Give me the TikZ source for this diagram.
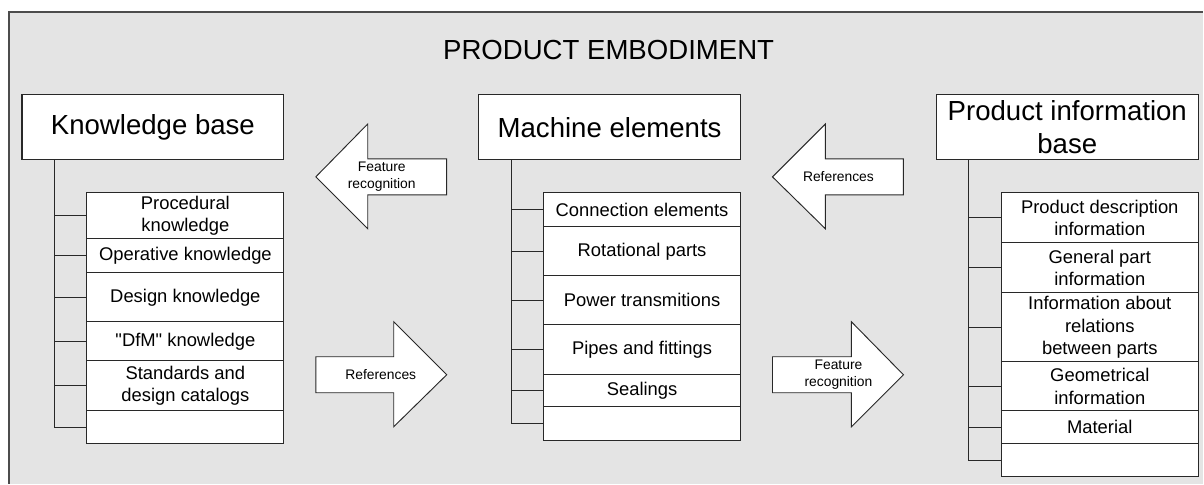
\documentclass[tikz,border=0pt]{standalone}
\usepackage{fontspec}
\setmainfont{Liberation Sans}
\usetikzlibrary{positioning}
\definecolor{panelgray}{RGB}{228,228,228}
\definecolor{linegray}{RGB}{40,40,40}

\tikzset{
  headbox/.style={draw=linegray, fill=white, outer sep=0pt, line width=0.8pt,
    minimum width=196.5pt, minimum height=48.75pt, inner sep=1pt, align=center,
    font=\fontsize{20.7}{24.8}\selectfont},
  itembox/.style={draw=linegray, fill=white, outer sep=0pt, line width=0.8pt,
    minimum width=147.75pt, inner sep=1pt, align=center,
    font=\fontsize{13.8}{17}\selectfont},
  tree/.style={draw=linegray, line width=0.8pt},
  bigarrow/.style={draw=linegray, fill=white, line width=0.7pt, line join=miter},
  arrowtext/.style={align=center, inner sep=0pt, font=\fontsize{10.4}{13}\selectfont},
}

\begin{document}
\begin{tikzpicture}[x=0.75pt, y=-0.75pt]
    % panel
    \fill[white] (0,0) rectangle (1204,484);
    \fill[panelgray] (9,12) rectangle (1204,484);
    \draw[black!70, line width=1.2pt] (9,484) -- (9,12) -- (1204,12);
    \node[font=\fontsize{20.7}{24.8}\selectfont] (title) at (609,50) {PRODUCT EMBODIMENT};

    % knowledge base
    \node[headbox] (kb) at (153,127.5) {Knowledge base};
    \node[itembox, minimum height=34.5pt, below left=24.75pt and 0pt of kb.south east] (kb1) {Procedural\\knowledge};
    \node[itembox, minimum height=25.5pt, below=0pt of kb1] (kb2) {Operative knowledge};
    \node[itembox, minimum height=36.75pt, below=0pt of kb2] (kb3) {Design knowledge};
    \node[itembox, minimum height=29.25pt, below=0pt of kb3] (kb4) {\textquotedbl DfM\textquotedbl{} knowledge};
    \node[itembox, minimum height=37.5pt, below=0pt of kb4] (kb5) {Standards and\\design catalogs};
    \node[itembox, minimum height=24.75pt, below=0pt of kb5] (kb6) {};
    \coordinate (kbt) at ([xshift=24.4pt]kb.south west);
    \draw[tree] (kbt) |- (kb6.west);
    \foreach \i in {1,...,5}
        \draw[tree] (kbt |- kb\i.west) -- (kb\i.west);

    % machine elements
    \node[headbox] (me) at (610,127.5) {Machine elements};
    \node[itembox, minimum height=25.5pt, below left=24.75pt and 0pt of me.south east] (me1) {Connection elements};
    \node[itembox, minimum height=36.75pt, below=0pt of me1] (me2) {Rotational parts};
    \node[itembox, minimum height=36.75pt, below=0pt of me2] (me3) {Power transmitions};
    \node[itembox, minimum height=37.5pt, below=0pt of me3] (me4) {Pipes and fittings};
    \node[itembox, minimum height=24pt, below=0pt of me4] (me5) {Sealings};
    \node[itembox, minimum height=25.5pt, below=0pt of me5] (me6) {};
    \coordinate (met) at ([xshift=24.4pt]me.south west);
    \draw[tree] (met) |- (me6.west);
    \foreach \i in {1,...,5}
        \draw[tree] (met |- me\i.west) -- (me\i.west);

    % product information base
    \node[headbox] (pib) at (1068,127.5) {Product information\\base};
    \node[itembox, minimum height=37.5pt, below left=24.75pt and 0pt of pib.south east] (pib1) {Product description\\information};
    \node[itembox, minimum height=37.5pt, below=0pt of pib1] (pib2) {General part\\information};
    \node[itembox, minimum height=51.75pt, below=0pt of pib2] (pib3) {Information about\\relations\\between parts};
    \node[itembox, minimum height=36.75pt, below=0pt of pib3] (pib4) {Geometrical\\information};
    \node[itembox, minimum height=24.75pt, below=0pt of pib4] (pib5) {Material};
    \node[itembox, minimum height=24.75pt, below=0pt of pib5] (pib6) {};
    \coordinate (pibt) at ([xshift=24.4pt]pib.south west);
    \draw[tree] (pibt) |- (pib6.west);
    \foreach \i in {1,...,5}
        \draw[tree] (pibt |- pib\i.west) -- (pib\i.west);

    % block arrows
    \draw[bigarrow] (316,177) -- (368,124) -- (368,159) -- (447,159) -- (447,195) -- (368,195) -- (368,229) -- cycle;
    \node[arrowtext] (fr1) at (382,177) {Feature\\recognition};
    \draw[bigarrow] (316,357) -- (394,357) -- (394,322) -- (447,375) -- (394,427) -- (394,393) -- (316,393) -- cycle;
    \node[arrowtext] (ref1) at (381,375) {References};
    \draw[bigarrow] (773,177) -- (826,124) -- (826,159) -- (904,159) -- (904,195) -- (826,195) -- (826,229) -- cycle;
    \node[arrowtext] (ref2) at (839,177) {References};
    \draw[bigarrow] (773,357) -- (852,357) -- (852,322) -- (904,375) -- (852,427) -- (852,393) -- (773,393) -- cycle;
    \node[arrowtext] (fr2) at (839,375) {Feature\\recognition};
\end{tikzpicture}
\end{document}
